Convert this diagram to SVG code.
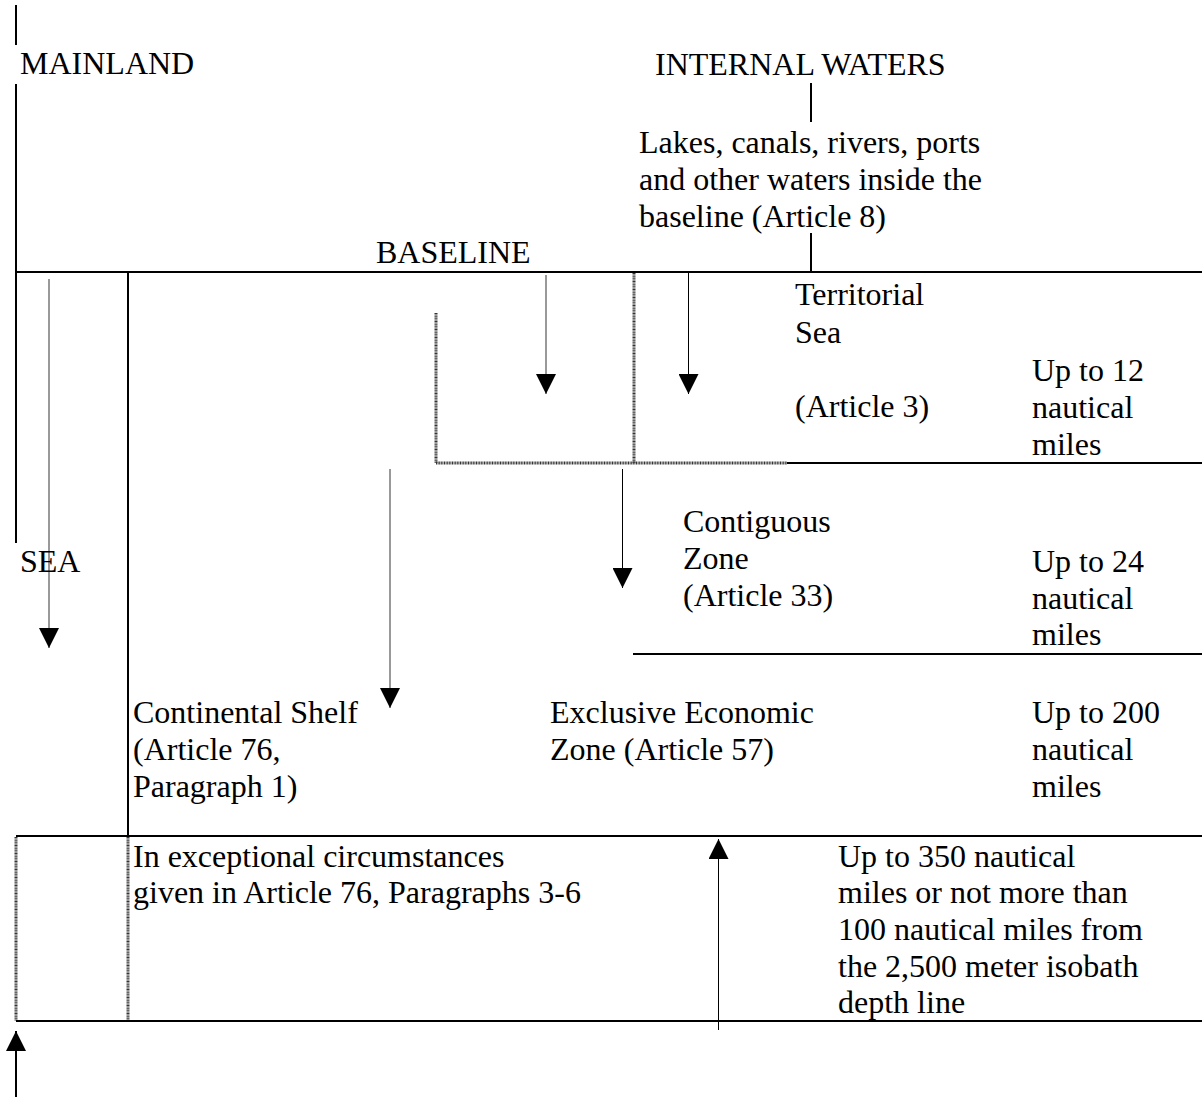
<svg xmlns="http://www.w3.org/2000/svg" width="1202" height="1098" viewBox="0 0 1202 1098">
<style>
text{font-family:"Liberation Serif","Times New Roman",serif;font-size:32px;fill:#000}
.ln{stroke:#000;stroke-width:2;fill:none}
.dt{stroke:#333;stroke-width:3;stroke-dasharray:1 0.6;fill:none}
.ar{stroke:#000;stroke-width:1;fill:none;marker-end:url(#ah)}
.arg{stroke:#777;stroke-width:1.5;fill:none;marker-end:url(#ah)}
</style>
<defs>
<marker id="ah" markerUnits="userSpaceOnUse" markerWidth="20" markerHeight="20" refX="20" refY="10" orient="auto" viewBox="0 0 20 20">
<path d="M0,0 L20,10 L0,20 z" fill="#000"/>
</marker>
</defs>
<rect width="1202" height="1098" fill="#fff"/>
<g id="connectors">
<line class="ln" x1="16" y1="5" x2="16" y2="45"/>
<line class="ln" x1="16" y1="84" x2="16" y2="543"/>
<line class="ln" x1="16" y1="272" x2="1202" y2="272"/>
<line class="ln" x1="811" y1="83" x2="811" y2="122"/>
<line class="ln" x1="811" y1="233" x2="811" y2="272"/>
<line class="ln" x1="128" y1="272" x2="128" y2="836"/>
<line class="dt" x1="128" y1="837" x2="128" y2="1021"/>
<line class="dt" x1="16" y1="837" x2="16" y2="1021"/>
<line class="ln" x1="16" y1="836" x2="1202" y2="836"/>
<line class="ln" x1="16" y1="1021" x2="1202" y2="1021"/>
<line class="dt" x1="436" y1="313" x2="436" y2="463"/>
<line class="dt" x1="634" y1="273" x2="634" y2="463"/>
<line class="dt" x1="436" y1="463" x2="787" y2="463"/>
<line class="ln" x1="787" y1="463" x2="1202" y2="463"/>
<line class="ln" x1="633" y1="654" x2="1202" y2="654"/>
<line class="arg" x1="49" y1="279" x2="49" y2="648"/>
<line class="arg" x1="546" y1="275" x2="546" y2="394"/>
<line class="ar" x1="688.5" y1="273" x2="688.5" y2="394"/>
<line class="ar" x1="622.5" y1="469" x2="622.5" y2="588"/>
<line class="arg" x1="390" y1="469" x2="390" y2="708"/>
<line class="ar" x1="718.5" y1="1030" x2="718.5" y2="839"/>
<line class="ar" x1="16" y1="1097" x2="16" y2="1031" style="stroke-width:2"/>
</g>
<g id="mainland"><text x="20" y="74">MAINLAND</text></g>
<g id="internal-waters"><text x="655" y="75">INTERNAL WATERS</text></g>
<g id="lakes">
<text x="639" y="153">Lakes, canals, rivers, ports</text>
<text x="639" y="190">and other waters inside the</text>
<text x="639" y="227">baseline (Article 8)</text>
</g>
<g id="baseline"><text x="376" y="263">BASELINE</text></g>
<g id="sea"><text x="20" y="572">SEA</text></g>
<g id="territorial-sea">
<text x="795" y="305">Territorial</text>
<text x="795" y="343">Sea</text>
<text x="795" y="417">(Article 3)</text>
</g>
<g id="up-to-12">
<text x="1032" y="381">Up to 12</text>
<text x="1032" y="418">nautical</text>
<text x="1032" y="455">miles</text>
</g>
<g id="contiguous-zone">
<text x="683" y="532">Contiguous</text>
<text x="683" y="569">Zone</text>
<text x="683" y="606">(Article 33)</text>
</g>
<g id="up-to-24">
<text x="1032" y="572">Up to 24</text>
<text x="1032" y="609">nautical</text>
<text x="1032" y="645">miles</text>
</g>
<g id="continental-shelf">
<text x="133" y="723">Continental Shelf</text>
<text x="133" y="760">(Article 76,</text>
<text x="133" y="797">Paragraph 1)</text>
</g>
<g id="eez">
<text x="550" y="723">Exclusive Economic</text>
<text x="550" y="760">Zone (Article 57)</text>
</g>
<g id="up-to-200">
<text x="1032" y="723">Up to 200</text>
<text x="1032" y="760">nautical</text>
<text x="1032" y="797">miles</text>
</g>
<g id="exceptional">
<text x="133" y="867">In exceptional circumstances</text>
<text x="133" y="903">given in Article 76, Paragraphs 3-6</text>
</g>
<g id="up-to-350">
<text x="838" y="867">Up to 350 nautical</text>
<text x="838" y="903">miles or not more than</text>
<text x="838" y="940">100 nautical miles from</text>
<text x="838" y="977">the 2,500 meter isobath</text>
<text x="838" y="1013">depth line</text>
</g>
</svg>
